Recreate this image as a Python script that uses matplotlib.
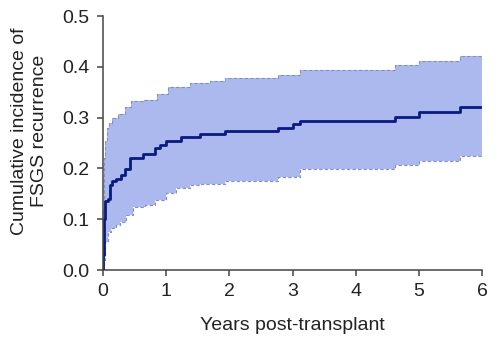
import matplotlib
matplotlib.use("Agg")
import matplotlib.pyplot as plt

plt.rcParams['font.family'] = ['Liberation Sans', 'DejaVu Sans']

# cumulative incidence estimate (step function, value holds until next time)
t_est = [0, 0.005, 0.01, 0.02, 0.03, 0.08, 0.11, 0.15, 0.21, 0.29, 0.35, 0.43, 0.64, 0.82, 0.9, 1.0,
         1.24, 1.53, 1.93, 2.77, 3.0, 3.12, 4.62, 5.0, 5.65, 6.0]
v_est = [0, 0.03, 0.07, 0.1, 0.135, 0.14, 0.168, 0.175, 0.18, 0.187, 0.198, 0.22, 0.228, 0.24, 0.246, 0.254,
         0.262, 0.267, 0.274, 0.279, 0.288, 0.294, 0.302, 0.312, 0.32, 0.32]

# upper 95% bound
t_up = [0, 0.005, 0.01, 0.02, 0.03, 0.06, 0.1, 0.14, 0.24, 0.35, 0.45, 0.65, 0.85, 1.03, 1.38, 1.69, 1.93,
        2.77, 3.12, 4.62, 5.0, 5.65, 6.0]
v_up = [0, 0.12, 0.18, 0.22, 0.254, 0.28, 0.29, 0.3, 0.307, 0.32, 0.333, 0.335, 0.347, 0.36, 0.368, 0.373, 0.378,
        0.383, 0.394, 0.403, 0.411, 0.421, 0.421]

# lower 95% bound
t_lo = [0, 0.01, 0.03, 0.08, 0.12, 0.2, 0.27, 0.37, 0.48, 0.67, 0.82, 1.0, 1.15, 1.38, 1.53, 1.93,
        2.77, 3.12, 4.62, 5.0, 5.65, 6.0]
v_lo = [0, 0.02, 0.056, 0.075, 0.082, 0.088, 0.095, 0.108, 0.125, 0.128, 0.138, 0.151, 0.161, 0.167, 0.17, 0.175,
        0.183, 0.198, 0.206, 0.214, 0.224, 0.224]

fig = plt.figure(figsize=(5, 3.41), dpi=100)
ax = fig.add_axes([0.206, 0.208, 0.758, 0.745])

# band: put both bounds on a common time grid so fill_between steps line up
grid = sorted(set(t_up) | set(t_lo))
def step_at(ts, vs, x):
    val = vs[0]
    for tt, vv in zip(ts, vs):
        if tt <= x:
            val = vv
    return val
up_g = [step_at(t_up, v_up, x) for x in grid]
lo_g = [step_at(t_lo, v_lo, x) for x in grid]
ax.fill_between(grid, lo_g, up_g, step='post', color='#abb9ee', lw=0)
ax.step(t_up, v_up, where='post', color='#8090c4', lw=0.8, ls=(0, (3, 2)))
ax.step(t_lo, v_lo, where='post', color='#8090c4', lw=0.8, ls=(0, (3, 2)))
ax.step(t_est, v_est, where='post', color='#0a1a80', lw=2)

ax.set_xlim(0, 6)
ax.set_ylim(0, 0.5)
ax.set_xticks(range(0, 7))
ax.set_yticks([0, 0.1, 0.2, 0.3, 0.4, 0.5])
ax.set_yticklabels(['0.0', '0.1', '0.2', '0.3', '0.4', '0.5'])
for s in ['top', 'right']:
    ax.spines[s].set_visible(False)
for s in ['left', 'bottom']:
    ax.spines[s].set_color('#444444')
    ax.spines[s].set_linewidth(1.1)
ax.tick_params(direction='out', length=4.5, width=1.1, colors='#444444', labelsize=14,
               labelcolor='#222222', pad=5)

ax.set_xlabel('Years post-transplant', fontsize=14, color='#222222')
ax.set_ylabel('Cumulative incidence of\nFSGS recurrence', fontsize=14, color='#222222')
ax.xaxis.set_label_coords(0.5, -0.185)
ax.yaxis.set_label_coords(-0.145, 0.547)

fig.savefig('out.png', dpi=100)
